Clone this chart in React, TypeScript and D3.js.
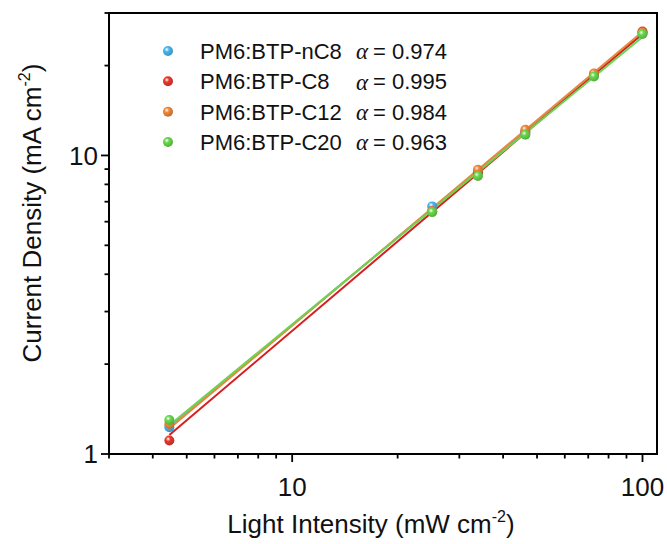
import React from 'react';
import * as d3 from 'd3';

// light intensity (mW cm-2)
const intensity = [4.46, 25.1, 33.9, 46.3, 72.7, 100];

// current density (mA cm-2) per device
const densityNC8 = [1.23, 6.75, 8.8, 11.9, 18.6, 25.7];
const densityC8 = [1.11, 6.5, 8.75, 12.0, 18.7, 26.0];
const densityC12 = [1.26, 6.5, 8.96, 12.2, 18.8, 25.8];
const densityC20 = [1.3, 6.46, 8.53, 11.73, 18.4, 25.5];

const seriesNames = ['PM6:BTP-nC8', 'PM6:BTP-C8', 'PM6:BTP-C12', 'PM6:BTP-C20'];
const alphas = ['0.974', '0.995', '0.984', '0.963'];
const alphaValues = [0.974, 0.995, 0.984, 0.963];
const allDensity = [densityNC8, densityC8, densityC12, densityC20];

const pointColors = ['#49b6ef', '#e8392d', '#f0883a', '#68d84c'];
const lineColors = ['#5bb3e3', '#d41f1f', '#e8873e', '#6fd251'];

const xTickLabels = [10, 100];
const yTickLabels = [1, 10];

const FONT = '"Liberation Sans", Arial, sans-serif';

export default function App() {
  const left = 109;
  const right = 657;
  const top = 13;
  const bottom = 454;

  const x = d3.scaleLog().domain([3, 110]).range([left, right]);
  const y = d3.scaleLog().domain([1, 30]).range([bottom, top]);

  const isMajor = (v: number) => Math.abs(Math.log10(v) - Math.round(Math.log10(v))) < 1e-9;

  // fitted power law lines, slope alpha fixed, intercept from the points
  const fits = allDensity.map((ys, i) => {
    const a = alphaValues[i];
    const logA = d3.mean(ys, (v, j) => Math.log10(v) - a * Math.log10(intensity[j])) as number;
    const x0 = d3.min(intensity) as number;
    const x1 = d3.max(intensity) as number;
    return [
      [x0, Math.pow(10, logA + a * Math.log10(x0))],
      [x1, Math.pow(10, logA + a * Math.log10(x1))],
    ];
  });

  const line = d3.line<number[]>()
    .x(d => x(d[0]))
    .y(d => y(d[1]));

  const legendY = d3.scaleLinear().domain([0, 3]).range([51, 142]);

  return (
    <svg width={667} height={544} style={{ position: 'absolute', left: 0, top: 0, background: '#fff' }}>
      <defs>
        {pointColors.map((c, i) => (
          <radialGradient key={i} id={`ball${i}`} cx="38%" cy="35%" r="65%">
            <stop offset="0%" stopColor="#ffffff" stopOpacity={0.9} />
            <stop offset="35%" stopColor={c} />
            <stop offset="100%" stopColor={d3.color(c)!.darker(0.6).toString()} />
          </radialGradient>
        ))}
      </defs>

      {/* fit lines */}
      {fits.map((f, i) => (
        <path key={i} d={line(f) || ''} stroke={lineColors[i]} strokeWidth={2} fill="none" />
      ))}

      {/* points */}
      {allDensity.map((ys, i) => (
        <g key={i}>
          {ys.map((v, j) => (
            <circle key={j} cx={x(intensity[j])} cy={y(v)} r={5} fill={`url(#ball${i})`} />
          ))}
        </g>
      ))}

      {/* frame */}
      <rect x={left} y={top} width={right - left} height={bottom - top} fill="none" stroke="#000" strokeWidth={2} />

      {/* x ticks */}
      {x.ticks().map(t => (
        <line key={`xt${t}`} x1={x(t)} x2={x(t)} y1={bottom} y2={bottom + (isMajor(t) ? 8 : 4.5)} stroke="#000" strokeWidth={1.8} />
      ))}
      {xTickLabels.map(t => (
        <text key={`xl${t}`} x={x(t)} y={496} textAnchor="middle" fontFamily={FONT} fontSize={26} fill="#111">{t}</text>
      ))}

      {/* y ticks */}
      {y.ticks().map(t => (
        <line key={`yt${t}`} x1={left} x2={left - (isMajor(t) ? 8 : 4.5)} y1={y(t)} y2={y(t)} stroke="#000" strokeWidth={1.8} />
      ))}
      {yTickLabels.map(t => (
        <text key={`yl${t}`} x={98} y={y(t)} dy="0.35em" textAnchor="end" fontFamily={FONT} fontSize={26} fill="#111">{t}</text>
      ))}

      {/* axis titles */}
      <text x={371} y={533} textAnchor="middle" fontFamily={FONT} fontSize={26} fill="#111">
        Light Intensity (mW cm<tspan fontSize={16} dy={-11}>-2</tspan><tspan dy={11}>)</tspan>
      </text>
      <text transform="translate(41,213) rotate(-90)" textAnchor="middle" fontFamily={FONT} fontSize={26} fill="#111">
        Current Density (mA cm<tspan fontSize={16} dy={-11}>-2</tspan><tspan dy={11}>)</tspan>
      </text>

      {/* legend */}
      {seriesNames.map((name, i) => (
        <g key={name}>
          <circle cx={168} cy={legendY(i)} r={5} fill={`url(#ball${i})`} />
          <text x={200} y={legendY(i)} dy="0.36em" fontFamily={FONT} fontSize={22} fill="#111">{name}</text>
          <text x={356} y={legendY(i)} dy="0.36em" fontFamily='"Liberation Serif", "DejaVu Serif", serif' fontStyle="italic" fontSize={23} fill="#111">α</text>
          <text x={373} y={legendY(i)} dy="0.36em" fontFamily={FONT} fontSize={22} fill="#111">= {alphas[i]}</text>
        </g>
      ))}
    </svg>
  );
}
